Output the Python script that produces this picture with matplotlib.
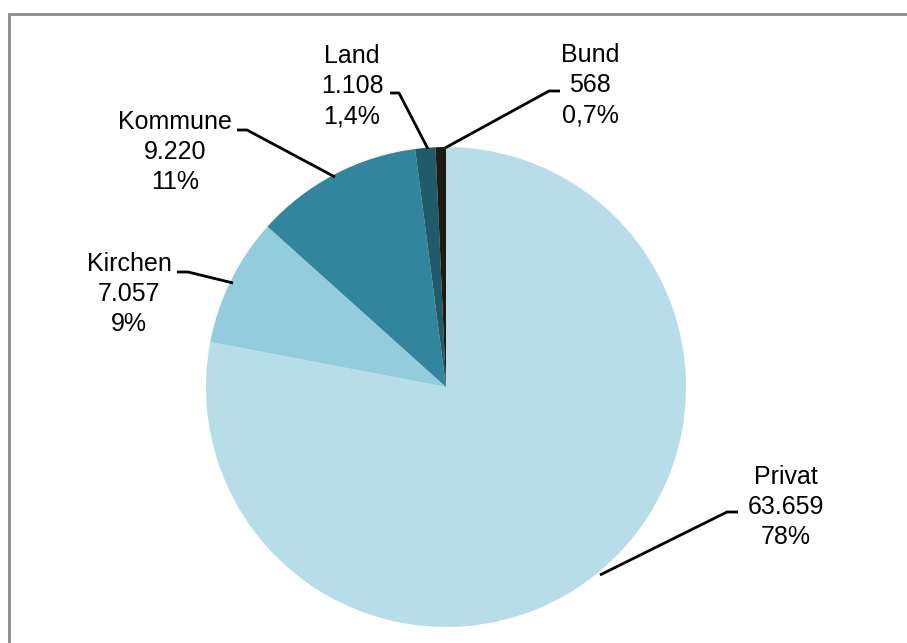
import matplotlib.pyplot as plt
from matplotlib.patches import Rectangle

plt.rcParams['font.family'] = ['Liberation Sans', 'DejaVu Sans']

# Träger und Anzahl
labels = ['Privat', 'Kirchen', 'Kommune', 'Land', 'Bund']
values = [63659, 7057, 9220, 1108, 568]
value_text = ['63.659', '7.057', '9.220', '1.108', '568']
pct_text = ['78%', '9%', '11%', '1,4%', '0,7%']
colors = ['#B7DDE8', '#93CDDD', '#31859C', '#215A69', '#1D1B12']

W, H = 907, 643

fig = plt.figure(figsize=(W / 100, H / 100), dpi=100)
ax = fig.add_axes([0, 0, 1, 1])


def py(y):
    # pixel row -> data y
    return H - y


# grey frame, cut off at right and bottom
ax.add_patch(Rectangle((9, py(700)), 1000, 700 - 14, fill=False,
                       edgecolor='#8C8C8C', linewidth=2))

ax.pie(values, colors=colors, startangle=90, counterclock=False,
       center=(446, py(387)), radius=240, frame=True,
       wedgeprops=dict(linewidth=0))
ax.set_xlim(0, W)
ax.set_ylim(0, H)
ax.set_aspect('equal')
ax.axis('off')

# label centres (pixels) and leader lines
label_pos = {
    'Privat': (786, 507),
    'Kirchen': (129, 294),
    'Kommune': (175, 152),
    'Land': (352, 86),
    'Bund': (590, 85),
}
leaders = {
    'Privat': [(738, 512), (727, 512), (600, 575)],
    'Kirchen': [(177, 272), (188, 272), (233, 283)],
    'Kommune': [(237, 130), (247, 130), (335, 177)],
    'Land': [(390, 93), (399, 93), (428, 149)],
    'Bund': [(560, 91), (549, 91), (445, 148)],
}

for i, name in enumerate(labels):
    x, y = label_pos[name]
    ax.text(x, py(y), f'{name}\n{value_text[i]}\n{pct_text[i]}',
            ha='center', va='center', fontsize=18, linespacing=1.32,
            color='black')
    pts = leaders[name]
    ax.plot([p[0] for p in pts], [py(p[1]) for p in pts],
            color='black', linewidth=2, solid_capstyle='butt')

fig.savefig('out.png', dpi=100)
